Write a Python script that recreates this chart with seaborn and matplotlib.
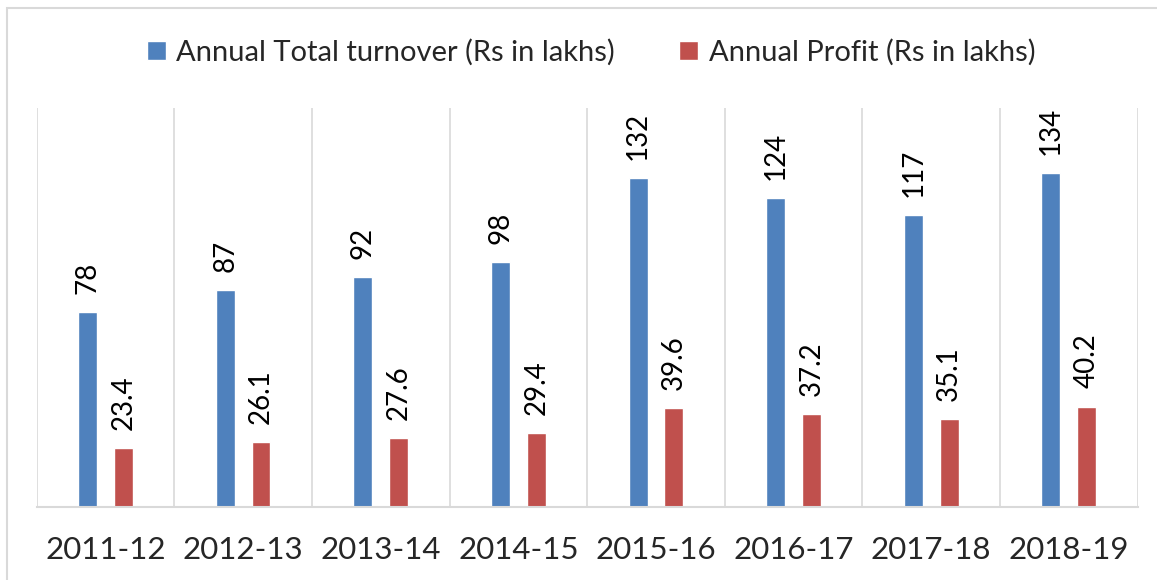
import numpy as np
import pandas as pd
import matplotlib.pyplot as plt
import seaborn as sns
from matplotlib.patches import Rectangle

# chart data
years = ['2011-12', '2012-13', '2013-14', '2014-15', '2015-16', '2016-17', '2017-18', '2018-19']
turnover = [78, 87, 92, 98, 132, 124, 117, 134]
profit = [23.4, 26.1, 27.6, 29.4, 39.6, 37.2, 35.1, 40.2]
series = ['Annual Total turnover (Rs in lakhs)', 'Annual Profit (Rs in lakhs)']
colors = ['#4F81BD', '#C0504D']

df = pd.DataFrame({
    'Year': years * 2,
    'Value': turnover + profit,
    'Series': [series[0]] * len(years) + [series[1]] * len(years),
})

sns.set_style('white')
plt.rcParams['font.family'] = ['Lato', 'DejaVu Sans']

fig = plt.figure(figsize=(11.57, 5.8), dpi=100)
ax = fig.add_axes([0.0317, 0.1264, 0.9516, 0.6874])

sns.barplot(data=df, x='Year', y='Value', hue='Series', palette=colors,
            saturation=1, width=0.52, gap=0.47, ax=ax)

for cont in ax.containers:
    ax.bar_label(cont, fmt='%g', rotation=90, padding=13, fontsize=20, color='black')

ax.set_xlim(-0.5, len(years) - 0.5)
ax.set_ylim(0, 160)
ax.set_yticks([])
ax.set_xlabel('')
ax.set_ylabel('')
ax.set_xticks(np.arange(-0.5, len(years)), minor=True)
ax.xaxis.grid(True, which='minor', color='#D9D9D9', lw=1.2)
ax.xaxis.grid(False, which='major')
ax.tick_params(axis='x', which='both', length=0)
ax.tick_params(axis='x', which='major', pad=21, labelsize=22.5)
for s in ['left', 'top', 'right']:
    ax.spines[s].set_visible(False)
ax.spines['bottom'].set_color('#D9D9D9')
ax.spines['bottom'].set_linewidth(1.5)

handles, labels = ax.get_legend_handles_labels()
ax.legend(handles, labels, loc='center', bbox_to_anchor=(0.511, 0.91),
          bbox_transform=fig.transFigure, ncol=2, frameon=False, fontsize=21,
          handlelength=0.65, handleheight=0.65, handletextpad=0.35, columnspacing=2.2)

fig.patches.append(Rectangle((7 / 1157, -0.1), 1.2, 1 - 8 / 580 + 0.1,
                             transform=fig.transFigure, fill=False,
                             ec='#D9D9D9', lw=1.5))

fig.savefig('out.png', dpi=100)
